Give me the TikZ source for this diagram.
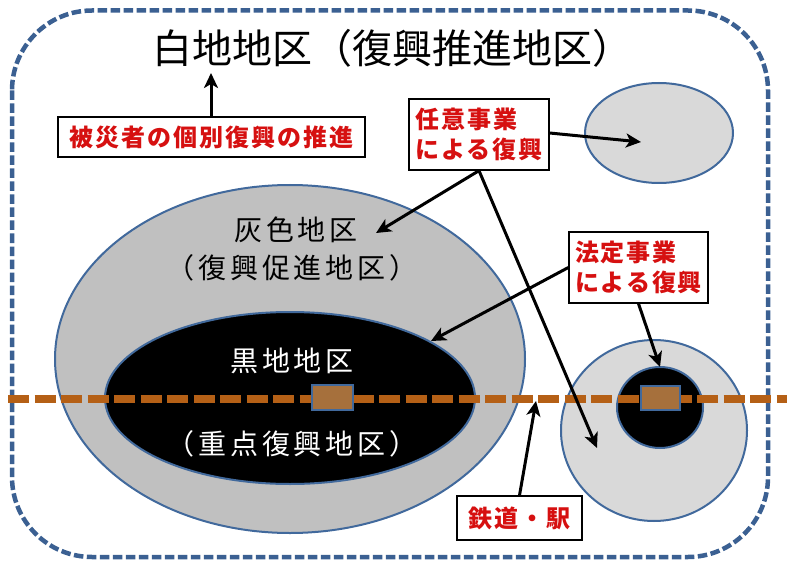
\documentclass[tikz,border=0pt]{standalone}
\usepackage{fontspec}
\newfontfamily\jp{Noto Sans CJK JP}
\newfontfamily\jpsp{Noto Sans CJK JP}[LetterSpace=8]
\newfontfamily\jpwide{Noto Sans CJK JP}[LetterSpace=14]
\usetikzlibrary{shapes.geometric,arrows.meta}
\definecolor{borderblue}{RGB}{59,96,146}
\definecolor{edgeblue}{RGB}{65,105,156}
\definecolor{railbrown}{RGB}{181,96,22}
\definecolor{stationbrown}{RGB}{166,112,60}
\definecolor{lbred}{RGB}{214,16,16}
\definecolor{midgray}{RGB}{192,192,192}
\definecolor{lightgray2}{RGB}{217,217,217}
\tikzset{
  outerframe/.style={draw=borderblue, line width=4.5pt, dash pattern=on 9.5pt off 3.5pt, rounded corners=80pt},
  zone/.style={ellipse, draw=edgeblue, line width=2pt, inner sep=0pt},
  rail/.style={draw=railbrown, line width=7.5pt, dash pattern=on 21pt off 5.5pt},
  station/.style={draw=edgeblue, fill=stationbrown, line width=1.8pt, inner sep=0pt},
  lbox/.style={draw=black, fill=white, line width=1.3pt, inner sep=0pt, text=lbred, font=\jpsp\bfseries\fontsize{24}{30}\selectfont},
  ptr/.style={draw=black, line width=3pt, -{Stealth[length=15pt,width=14pt,inset=4pt]}},
  ztext/.style={font=\jpwide\fontsize{28}{34}\selectfont, inner sep=0pt},
}
\begin{document}
\begin{tikzpicture}[x=1pt,y=-1pt]
\useasboundingbox (0,0) rectangle (787,564);
% outer frame
\draw[outerframe] (12,10.5) rectangle (768,557);
% zones
\node[zone, fill=midgray, minimum width=470pt, minimum height=348pt] (grayzone) at (290,359) {};
\node[zone, fill=black, minimum width=370pt, minimum height=172pt] (blackzone) at (290,398) {};
\node[zone, fill=lightgray2, minimum width=186pt, minimum height=181pt] (rcircle) at (654,430.5) {};
\node[zone, fill=black, minimum width=86pt, minimum height=81pt] (rblack) at (660,407.5) {};
\node[zone, fill=lightgray2, minimum width=148pt, minimum height=100pt] (tellipse) at (659,133) {};
% railway
\coordinate (railL) at (8,399);
\coordinate (railR) at (787,399);
\draw[rail] (railL) -- (railR);
\node[station, minimum width=41pt, minimum height=25pt] (st1) at (332.5,397.5) {};
\node[station, minimum width=39pt, minimum height=24pt] (st2) at (660.5,398) {};
% texts
\node[font=\jp\fontsize{40}{44}\selectfont, inner sep=0pt] (title) at (392,48) {白地地区（復興推進地区）};
\node[ztext] (graylabel1) at (296,230) {灰色地区};
\node[ztext] (graylabel2) at (292,268) {（復興促進地区）};
\node[ztext, text=white] (blacklabel1) at (292,361) {黒地地区};
\node[ztext, text=white] (blacklabel2) at (292,444) {（重点復興地区）};
% label boxes
\node[lbox, minimum width=307pt, minimum height=40pt] (kobetsu) at (211.5,137) {被災者の個別復興の推進};
\node[lbox, minimum width=140pt, minimum height=71pt, align=left] (nini) at (479,134.5) {任意事業\\による復興};
\node[lbox, minimum width=139pt, minimum height=71pt, align=left] (houtei) at (638.5,267.5) {法定事業\\による復興};
\node[lbox, minimum width=125pt, minimum height=44pt] (tetsudo) at (519.5,518) {鉄道・駅};
% arrow targets
\coordinate (tTitle) at (211,73);
\coordinate (tEllipse) at (641,142);
\coordinate (tGray) at (376,233);
\coordinate (tCircle) at (597,448);
\coordinate (tBlack) at (431,341);
\coordinate (tRBlack) at (660,367);
\coordinate (tRail) at (536,401);
% arrows
\draw[ptr] (kobetsu.north -| tTitle) -- (tTitle);
\draw[ptr] (nini.east |- 0,133) -- (tEllipse);
\draw[ptr] (nini.south) -- (tGray);
\draw[ptr] (nini.south) -- (tCircle);
\draw[ptr] (houtei.west) -- (tBlack);
\draw[ptr] (houtei.south) -- (tRBlack);
\draw[ptr] (tetsudo.north) -- (tRail);
\end{tikzpicture}
\end{document}
